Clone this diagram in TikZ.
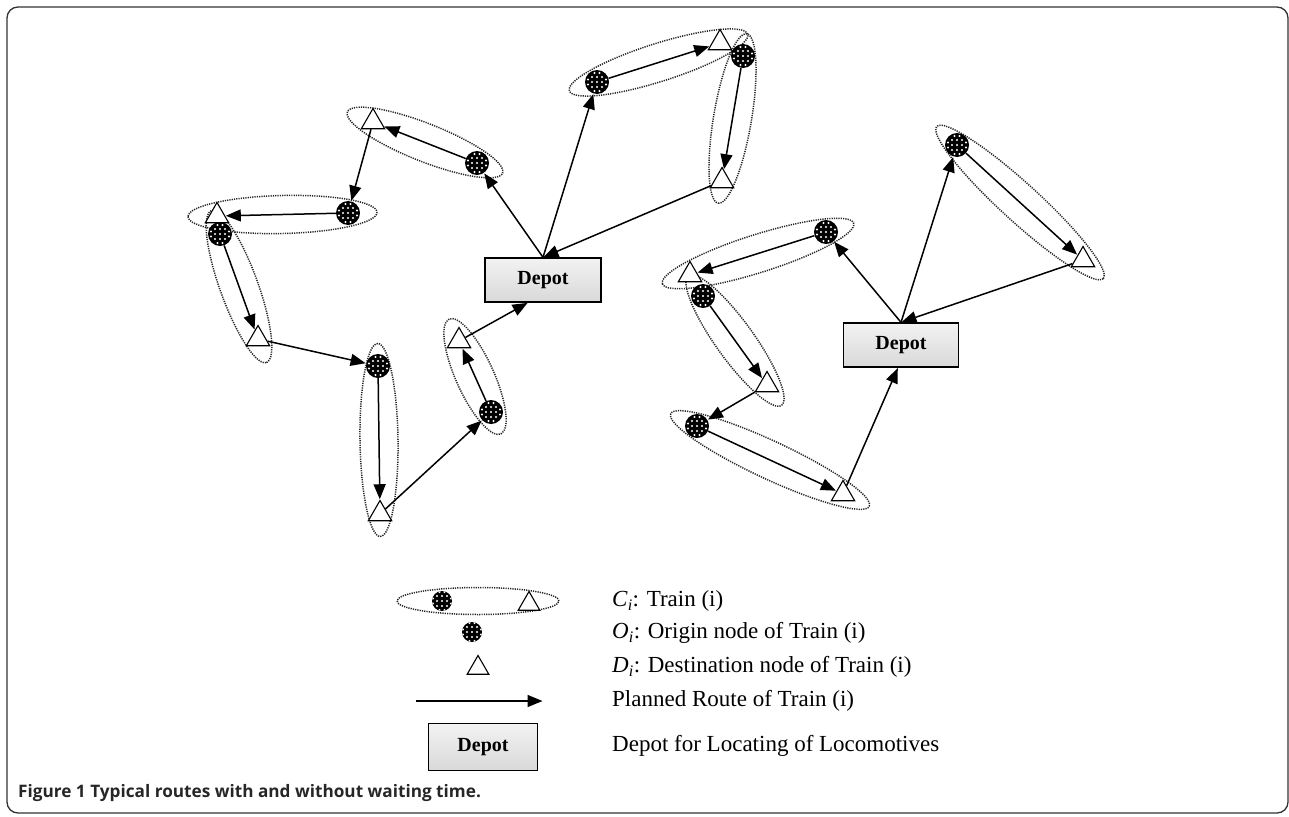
\documentclass[tikz,border=0pt]{standalone}
\usepackage{fontspec}
\setmainfont{Liberation Serif}
\newfontfamily\capfont{Open Sans}
\usetikzlibrary{shapes.geometric,arrows.meta,calc}
\pgfdeclarelayer{background}
\pgfsetlayers{background,main}
\tikzset{
  onode/.style={circle, fill=black, minimum size=24pt, inner sep=0pt,
    path picture={\foreach \dx/\dy in {-5/-5,0/-5,5/-5,-5/0,0/0,5/0,-5/5,0/5,5/5,-2.5/-9,2.5/-9,-2.5/9,2.5/9,-9/-2.5,-9/2.5,9/-2.5,9/2.5}
      {\fill[white] ($(path picture bounding box.center)+(\dx pt,\dy pt)$) circle (1.2pt);}}},
  smallonode/.style={onode, minimum size=20pt},
  dnode/.style={regular polygon, regular polygon sides=3, draw, fill=white, minimum size=27pt, inner sep=0pt, line width=1.1pt},
  route/.style={-{Triangle[length=15pt,width=12pt]}, line width=1.5pt, shorten >=0.5pt},
  ring/.style={ellipse, draw=black!85, line width=1.5pt, dash pattern=on 1.2pt off 1.1pt, inner sep=0pt},
  depotbox/.style={draw, line width=1.3pt, top color=gray!10, bottom color=gray!30, font=\fontsize{20}{24}\selectfont\bfseries},
  legtext/.style={anchor=west, font=\fontsize{23}{26}\selectfont, inner sep=0pt}
}
\newcommand\trainring[4]{%
  \path let \p1=($(#3)-(#2)$), \n1={atan2(\y1,\x1)}, \n2={veclen(\x1,\y1)+#4} in
    node[ring, rotate=\n1, minimum width=\n2, minimum height=38pt] (#1) at ($(#2)!0.5!(#3)$) {};}
\begin{document}
\begin{tikzpicture}[x=1pt,y=-1pt]
\useasboundingbox (0,0) rectangle (1289,816);
\draw[line width=1.3pt, black!80, rounded corners=11pt] (7,7) rectangle (1288,813);

% depots
\node[depotbox, minimum width=116pt, minimum height=44pt] (dep1) at (543,280) {Depot};
\node[depotbox, minimum width=115pt, minimum height=44pt] (dep2) at (901,345) {Depot};

% left network
\node[onode] (o1) at (597,82) {};
\node[dnode] (d1) at (720,43) {};
\node[onode] (o2) at (743,56) {};
\node[dnode] (d2) at (722,181) {};
\node[onode] (o3) at (477,163) {};
\node[dnode] (d3) at (373,122) {};
\node[onode] (o4) at (348,213) {};
\node[dnode] (d4) at (217,216) {};
\node[onode] (o5) at (220,234) {};
\node[dnode] (d5) at (258,339) {};
\node[onode] (o6) at (378,366) {};
\node[dnode] (d6) at (380,514) {};
\node[onode] (o7) at (491,412) {};
\node[dnode] (d7) at (459,341) {};
% right network
\node[onode] (o8) at (957,145) {};
\node[dnode] (d8) at (1083,260) {};
\node[onode] (o9) at (826,232) {};
\node[dnode] (d9) at (690,275) {};
\node[onode] (o10) at (703,296) {};
\node[dnode] (d10) at (767,385) {};
\node[onode] (o11) at (697,426) {};
\node[dnode] (d11) at (843,494) {};

\begin{pgfonlayer}{background}
\trainring{r1}{o1}{d1}{58}
\trainring{r2}{o2}{d2}{45}
\trainring{r3}{o3}{d3}{55}
\trainring{r4}{o4}{d4}{58}
\trainring{r5}{o5}{d5}{50}
\trainring{r6}{o6}{d6}{45}
\trainring{r7}{o7}{d7}{48}
\trainring{r8}{o8}{d8}{55}
\trainring{r9}{o9}{d9}{58}
\trainring{r10}{o10}{d10}{50}
\trainring{r11}{o11}{d11}{58}
\end{pgfonlayer}

% routes left
\draw[route] (dep1.north) -- (o1);
\draw[route] (o1) -- (d1);
\draw[route] (o2) -- (d2);
\draw[route] (d2) -- (dep1.north);
\draw[route] (dep1.north) -- (o3);
\draw[route] (o3) -- (d3);
\draw[route] (d3) -- (o4);
\draw[route] (o4) -- (d4);
\draw[route] (o5) -- (d5);
\draw[route] (d5) -- (o6);
\draw[route] (o6) -- (d6);
\draw[route] (d6) -- (o7);
\draw[route] (o7) -- (d7);
\draw[route] (d7) -- ($(dep1.south)+(-15,0)$);
% routes right
\draw[route] (dep2.north) -- (o8);
\draw[route] (o8) -- (d8);
\draw[route] (d8) -- (dep2.north);
\draw[route] (dep2.north) -- (o9);
\draw[route] (o9) -- (d9);
\draw[route] (o10) -- (d10);
\draw[route] (d10) -- (o11);
\draw[route] (o11) -- (d11);
\draw[route] (d11) -- ($(dep2.south)+(-3,0)$);

% legend
\node[ring, minimum width=162pt, minimum height=27pt] (lr) at (478,601) {};
\node[smallonode] (lo1) at (442,601) {};
\node[dnode, minimum size=25pt] (ld1) at (529,604) {};
\node[smallonode] (lo2) at (472,632) {};
\node[dnode, minimum size=25pt] (ld2) at (478,668) {};
\coordinate (la) at (416,701);
\coordinate (lb) at (543,701);
\draw[route] (la) -- (lb);
\node[depotbox, minimum width=109pt, minimum height=47pt] (ldep) at (483,747) {Depot};

\node[legtext] (t1) at (612,601) {\textit{C}\textsubscript{\textit{i}}: Train (i)};
\node[legtext] (t2) at (612,633) {\textit{O}\textsubscript{\textit{i}}: Origin node of Train (i)};
\node[legtext] (t3) at (612,667) {\textit{D}\textsubscript{\textit{i}}: Destination node of Train (i)};
\node[legtext] (t4) at (612,701) {Planned Route of Train (i)};
\node[legtext] (t5) at (612,746) {Depot for Locating of Locomotives};

\node[anchor=west, inner sep=0pt, font=\capfont\bfseries\fontsize{17.2}{20}\selectfont, text=black!85] (cap) at (18,793) {Figure 1 Typical routes with and without waiting time.};
\end{tikzpicture}
\end{document}
